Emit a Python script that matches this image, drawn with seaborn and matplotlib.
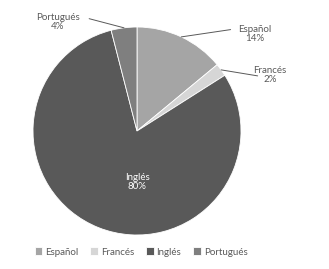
import matplotlib
matplotlib.use("Agg")
import matplotlib.pyplot as plt
import seaborn as sns
import numpy as np

idiomas = ["Español", "Francés", "Inglés", "Portugués"]
porcentajes = [14, 2, 80, 4]
colores = ["#a5a5a5", "#d6d6d6", "#595959", "#7f7f7f"]

sns.set_theme(style="white")
plt.rcParams["font.family"] = ["Lato", "DejaVu Sans"]

fig = plt.figure(figsize=(3.29, 2.69), dpi=100)
cx, cy, r = 137, 131, 104
ax = fig.add_axes([(cx - r) / 329, (269 - cy - r) / 269, 2 * r / 329, 2 * r / 269])

wedges, _ = ax.pie(porcentajes, colors=colores, startangle=90, counterclock=False,
                   wedgeprops=dict(edgecolor="white", linewidth=0.6))
ax.set_xlim(-1, 1)
ax.set_ylim(-1, 1)
ax.set_aspect("equal")

# etiquetas: (x texto, y texto, x fin de linea, y fin de linea)
pos = {
    "Español": (1.13, 0.93, 0.90, 0.975),
    "Francés": (1.28, 0.54, 1.16, 0.53),
    "Portugués": (-0.76, 1.05, -0.46, 1.08),
}
for w, nombre, p in zip(wedges, idiomas, porcentajes):
    ang = np.deg2rad((w.theta1 + w.theta2) / 2)
    x0, y0 = np.cos(ang), np.sin(ang)
    texto = f"{nombre}\n{p}%"
    if nombre in pos:
        tx, ty, lx, ly = pos[nombre]
        ax.plot([x0, lx], [y0, ly], color="#595959", lw=0.7, clip_on=False)
        ax.text(tx, ty, texto, ha="center", va="center", fontsize=7,
                color="#595959", linespacing=1.0, clip_on=False)
    else:
        ax.text(0, -0.49, texto, ha="center", va="center", fontsize=7,
                color="white", linespacing=1.0)

fig.legend(wedges, idiomas, loc="center", bbox_to_anchor=(141 / 329, 1 - 252 / 269),
           ncol=4, frameon=False, fontsize=7, handlelength=0.8, handleheight=0.8,
           handletextpad=0.3, columnspacing=1.2, labelcolor="#595959")

fig.savefig("out.png", dpi=100)
